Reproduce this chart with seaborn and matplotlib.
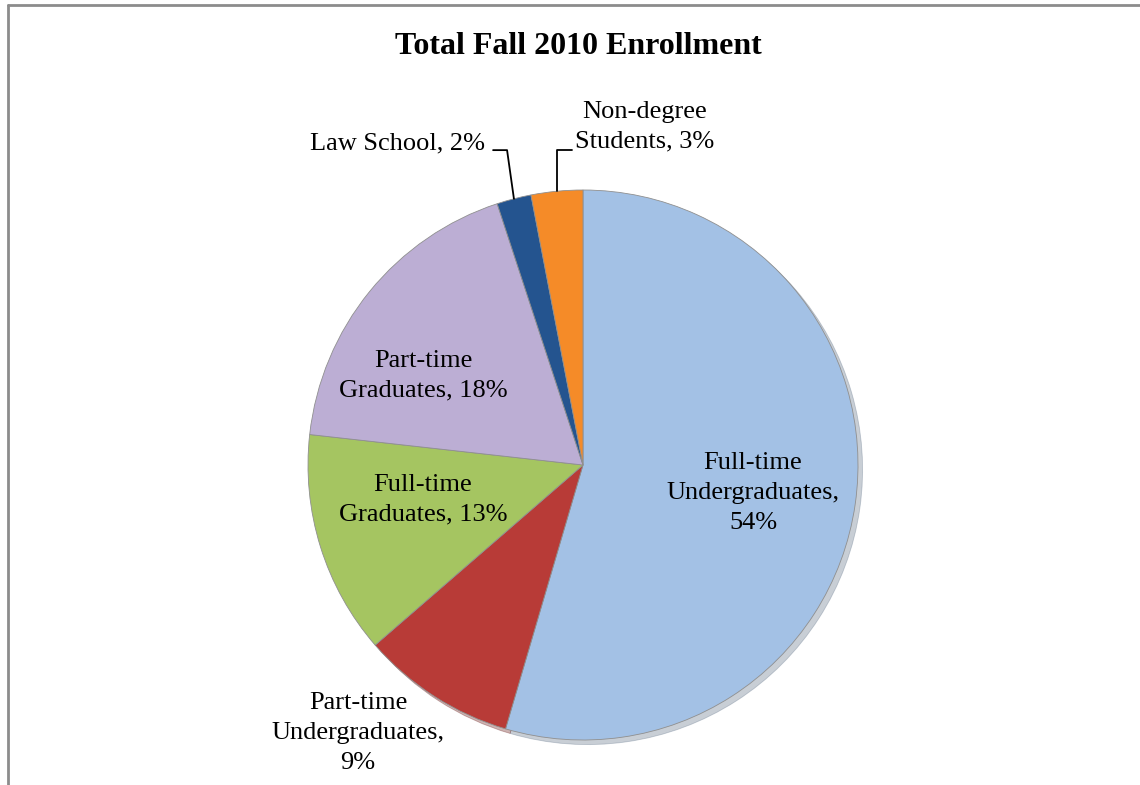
import matplotlib
matplotlib.use("Agg")
import matplotlib.pyplot as plt
from matplotlib.lines import Line2D
import seaborn as sns
import numpy as np

sns.set_theme(style="white")
plt.rcParams['font.family'] = ['Liberation Serif', 'DejaVu Serif']

# datos del grafico
categorias = ["Full-time Undergraduates", "Part-time Undergraduates", "Full-time Graduates",
              "Part-time Graduates", "Law School", "Non-degree Students"]
porcentajes = [54, 9, 13, 18, 2, 3]
etiquetas = ["Full-time\nUndergraduates,\n54%", "Part-time\nUndergraduates,\n9%",
             "Full-time\nGraduates, 13%", "Part-time\nGraduates, 18%",
             "Law School, 2%", "Non-degree\nStudents, 3%"]
colores = ["#a3c1e5", "#b83b37", "#a5c561", "#bcaed4", "#24548f", "#f58b28"]

# posiciones de las etiquetas (radio = 1)
pos_etiquetas = [(0.618, -0.102), (-0.818, -0.975), (-0.582, -0.127),
                 (-0.582, 0.324), (-0.356, 1.171), (0.225, 1.229)]
alineacion = ["center", "center", "center", "center", "right", "center"]

fig = plt.figure(figsize=(11.4, 7.85), dpi=100)
cx, cy, r = 583 / 1140, 1 - 465 / 785, 275
ax = fig.add_axes([cx - r / 1140, cy - r / 785, 2 * r / 1140, 2 * r / 785])

wedges, _ = ax.pie(porcentajes, colors=colores, startangle=90, counterclock=False,
                   wedgeprops=dict(edgecolor="#8f8f8f", linewidth=0.6),
                   shadow=dict(ox=0.012, oy=-0.012, shade=0.4, alpha=0.35))
ax.set_xlim(-1, 1)
ax.set_ylim(-1, 1)
ax.set_aspect("equal")
ax.axis("off")

for txt, (x, y), ha in zip(etiquetas, pos_etiquetas, alineacion):
    ax.text(x, y, txt, ha=ha, va="center", fontsize=19, color="black",
            linespacing=1.45, clip_on=False)

# lineas guia para las porciones chicas
for i, x_fin in [(4, -0.327), (5, -0.04)]:
    w = wedges[i]
    ang = np.deg2rad((w.theta1 + w.theta2) / 2)
    x0, y0 = np.cos(ang), np.sin(ang)
    x_codo = x0 - 0.025 if i == 4 else x0
    ax.plot([x0, x_codo, x_fin], [y0, 1.145, 1.145], color="black", lw=1.3, clip_on=False)

fig.suptitle("Total Fall 2010 Enrollment", fontsize=23, fontweight="bold", color="black",
             x=578 / 1140, y=1 - 46 / 785, va="center")

# marco del grafico
fig.add_artist(Line2D([8 / 1140, 8 / 1140], [0, 1 - 5 / 785], color="#8c8c8c", lw=2))
fig.add_artist(Line2D([8 / 1140, 1], [1 - 5 / 785, 1 - 5 / 785], color="#8c8c8c", lw=2))

fig.savefig("out.png", dpi=100)
